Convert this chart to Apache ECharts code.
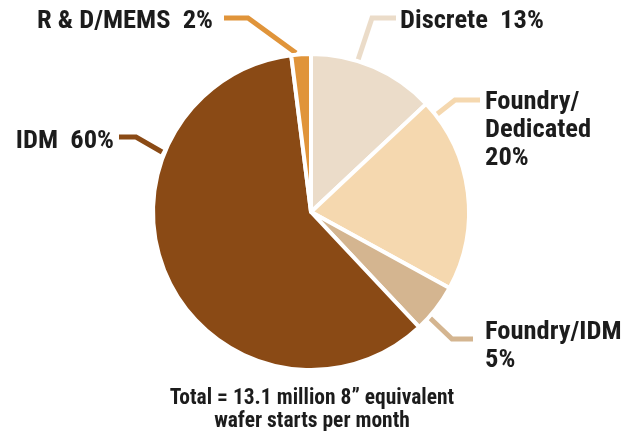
<!DOCTYPE html>
<html>
<head>
<meta charset="utf-8">
<script src="https://cdn.jsdelivr.net/npm/echarts@6/dist/echarts.min.js"></script>
<style>
  html, body { margin: 0; padding: 0; background: #ffffff; }
  #chart { width: 627px; height: 431px; }
</style>
</head>
<body>
<div id="chart"></div>
<script>
// Worldwide wafer capacity by segment (share of 8" equivalent starts)
const categories = ['Discrete', 'Foundry/Dedicated', 'Foundry/IDM', 'IDM', 'R & D/MEMS'];
const shares = [13, 20, 5, 60, 2];
const labelTexts = ['Discrete  13%', 'Foundry/\nDedicated\n20%', 'Foundry/IDM\n5%', 'IDM  60%', 'R & D/MEMS  2%'];
const totalNote = 'Total = 13.1 million 8\u201D equivalent\nwafer starts per month';

const colors = ['#EBDCC9', '#F5D8AF', '#D4B590', '#8A4A15', '#E0943A'];
const FONT = '"Roboto Condensed", "Open Sans Condensed", "DejaVu Sans Condensed", sans-serif';
const TEXT_COLOR = '#1c1c1c';

// Label anchors and leader paths (chart pixels)
const labelPlacement = [
  { x: 400, y: 21, align: 'left', line: [[358, 60], [372, 18], [396, 18]] },
  { x: 485, y: 130, align: 'left', line: [[436, 115], [455, 100], [480, 100]] },
  { x: 485, y: 346, align: 'left', line: [[430, 318], [452, 339], [473, 339]] },
  { x: 114, y: 141, align: 'right', line: [[162, 152], [136, 137], [119, 137]] },
  { x: 213, y: 21, align: 'right', line: [[296, 53], [248, 18], [224, 18]] }
];

const chart = echarts.init(document.getElementById('chart'), null, { renderer: 'canvas' });

chart.setOption({
  animation: false,
  backgroundColor: '#ffffff',
  title: {
    text: totalNote,
    left: 307,
    top: 382,
    textAlign: 'center',
    textStyle: {
      fontFamily: FONT,
      fontSize: 21.5,
      fontWeight: 'bold',
      lineHeight: 23,
      color: TEXT_COLOR
    }
  },
  series: [{
    type: 'pie',
    center: [311, 212],
    radius: 158,
    startAngle: 90,
    clockwise: true,
    avoidLabelOverlap: false,
    itemStyle: { borderColor: '#ffffff', borderWidth: 4 },
    label: {
      show: true,
      position: 'outside',
      fontFamily: FONT,
      fontSize: 26.5,
      fontWeight: 'bold',
      lineHeight: 28,
      color: TEXT_COLOR,
      formatter: p => labelTexts[p.dataIndex]
    },
    labelLine: {
      show: true,
      lineStyle: { width: 5 }
    },
    labelLayout: params => {
      const L = labelPlacement[params.dataIndex];
      return {
        x: L.x,
        y: L.y,
        align: L.align,
        verticalAlign: 'middle',
        labelLinePoints: L.line
      };
    },
    data: categories.map((name, i) => ({
      name,
      value: shares[i],
      itemStyle: { color: colors[i] },
      labelLine: { lineStyle: { color: colors[i] } }
    }))
  }]
});
</script>
</body>
</html>
